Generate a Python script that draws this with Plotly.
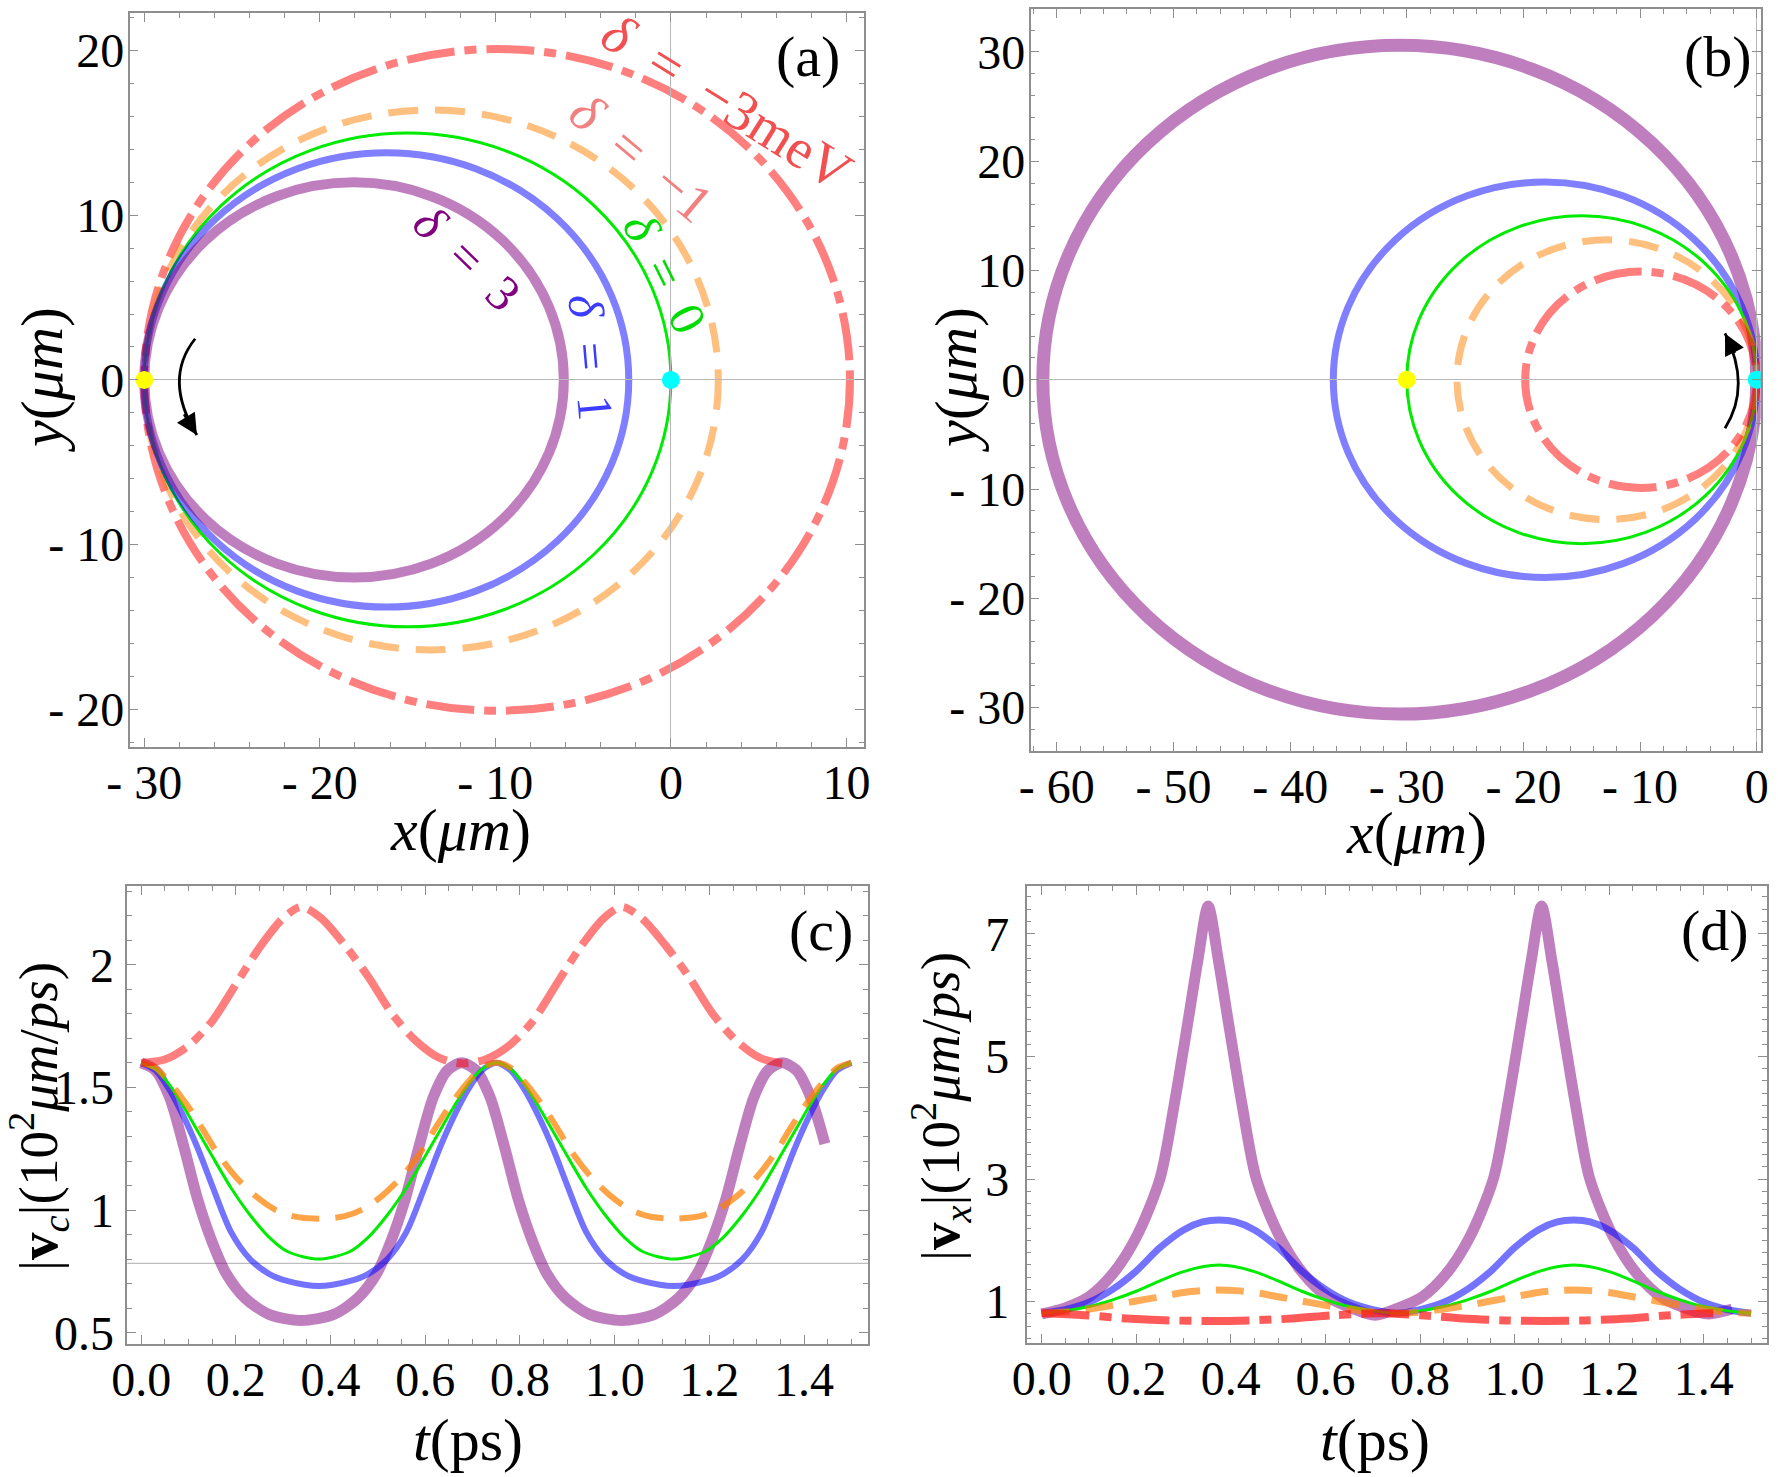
import plotly.graph_objects as go

W, H = 1778, 1477

# ---------------- data ----------------
delta_labels = ["-3", "-1", "0", "1", "3"]

# panel (a): trajectory extents (left x, right x, half height) in um
a_xleft = [-30.0, -30.0, -30.0, -30.0, -30.0]
a_xright = [10.2, 2.7, 0.0, -2.4, -6.1]
a_yhalf = [20.1, 16.4, 15.0, 13.8, 12.0]

# panel (b)
b_xleft = [-19.85, -25.7, -30.0, -36.3, -61.2]
b_xright = [0.0, 0.0, 0.0, 0.0, 0.0]
b_yhalf = [9.9, 12.8, 15.0, 18.1, 30.6]

# start / special points
a_yellow = (-30.0, 0.0)
a_cyan = (0.0, 0.0)
b_yellow = (-30.0, 0.0)
b_cyan = (0.0, 0.0)

# curved arrows: start, control, tip
a_arrow = [(-27.1, 2.5), (-28.95, 0.03), (-27.0, -3.35)]
b_arrow = [(-2.72, -4.43), (-0.44, -0.585), (-2.72, 4.24)]

# panel (c): |v_c| (10^2 um/ps)
c_t_red = [0.0, 0.05, 0.10, 0.15, 0.20, 0.25, 0.30, 0.338, 0.38, 0.43, 0.48, 0.53, 0.58, 0.63, 0.677,
           0.727, 0.777, 0.827, 0.877, 0.927, 0.977, 1.015, 1.057, 1.107, 1.157, 1.207, 1.257, 1.307, 1.354]
c_v_red = [1.600, 1.614, 1.67, 1.77, 1.92, 2.07, 2.19, 2.236, 2.19, 2.08, 1.95, 1.80, 1.69, 1.62, 1.598,
           1.614, 1.67, 1.77, 1.92, 2.07, 2.19, 2.236, 2.19, 2.08, 1.95, 1.80, 1.69, 1.62, 1.598]

c_t_purple = [0.0, 0.03, 0.06, 0.09, 0.12, 0.15, 0.18, 0.22, 0.27, 0.338, 0.407, 0.457, 0.497, 0.527, 0.557,
              0.587, 0.617, 0.647, 0.677, 0.707, 0.737, 0.767, 0.797, 0.827, 0.857, 0.897, 0.947, 1.015,
              1.084, 1.134, 1.174, 1.204, 1.234, 1.264, 1.294, 1.324, 1.354, 1.384, 1.414, 1.444]
c_v_purple = [1.60, 1.57, 1.46, 1.26, 1.04, 0.87, 0.74, 0.64, 0.575, 0.55, 0.575, 0.64, 0.74, 0.87, 1.04,
              1.26, 1.46, 1.57, 1.60, 1.57, 1.46, 1.26, 1.04, 0.87, 0.74, 0.64, 0.575, 0.55,
              0.575, 0.64, 0.74, 0.87, 1.04, 1.26, 1.46, 1.57, 1.60, 1.57, 1.46, 1.27]

c_t_bgo = [0.0, 0.03, 0.06, 0.09, 0.12, 0.15, 0.19, 0.23, 0.27, 0.31, 0.375, 0.44, 0.48, 0.52, 0.56, 0.60,
           0.63, 0.66, 0.69, 0.72, 0.75, 0.78, 0.81, 0.84, 0.87, 0.90, 0.94, 0.98, 1.02, 1.06, 1.125, 1.19,
           1.23, 1.27, 1.31, 1.35, 1.38, 1.41, 1.44, 1.47, 1.50]
c_v_blue = [1.60, 1.57, 1.49, 1.38, 1.25, 1.10, 0.91, 0.80, 0.74, 0.71, 0.69, 0.71, 0.74, 0.80, 0.91, 1.10,
            1.25, 1.38, 1.49, 1.57, 1.60, 1.57, 1.49, 1.38, 1.25, 1.10, 0.91, 0.80, 0.74, 0.71, 0.69, 0.71,
            0.74, 0.80, 0.91, 1.10, 1.25, 1.38, 1.49, 1.57, 1.60]
c_v_green = [1.60, 1.575, 1.51, 1.42, 1.32, 1.22, 1.09, 0.98, 0.89, 0.83, 0.80, 0.83, 0.89, 0.98, 1.09, 1.22,
             1.32, 1.42, 1.51, 1.575, 1.60, 1.575, 1.51, 1.42, 1.32, 1.22, 1.09, 0.98, 0.89, 0.83, 0.80, 0.83,
             0.89, 0.98, 1.09, 1.22, 1.32, 1.42, 1.51, 1.575, 1.60]
c_t_orange = [0.0, 0.03, 0.065, 0.10, 0.13, 0.16, 0.20, 0.24, 0.28, 0.32, 0.375, 0.43, 0.47, 0.51, 0.55, 0.59,
              0.62, 0.65, 0.685, 0.72, 0.75, 0.78, 0.815, 0.85, 0.88, 0.91, 0.95, 0.99, 1.03, 1.07, 1.125,
              1.18, 1.22, 1.26, 1.30, 1.34, 1.37, 1.40, 1.435, 1.47, 1.50]
c_v_orange = [1.60, 1.58, 1.51, 1.42, 1.33, 1.235, 1.135, 1.06, 1.005, 0.975, 0.965, 0.975, 1.005, 1.06, 1.135,
              1.235, 1.33, 1.42, 1.51, 1.58, 1.60, 1.58, 1.51, 1.42, 1.33, 1.235, 1.135, 1.06, 1.005, 0.975,
              0.965, 0.975, 1.005, 1.06, 1.135, 1.235, 1.33, 1.42, 1.51, 1.58, 1.60]
c_hline = 0.783

# panel (d): |v_x| (10^2 um/ps)
d_t_purple = [0.0, 0.05, 0.10, 0.15, 0.20, 0.25, 0.28, 0.308, 0.33, 0.352, 0.374, 0.396, 0.424, 0.454, 0.504,
              0.554, 0.604, 0.654, 0.705, 0.755, 0.805, 0.855, 0.905, 0.955, 0.985, 1.013, 1.035, 1.057,
              1.079, 1.101, 1.129, 1.159, 1.209, 1.259, 1.309, 1.359, 1.41, 1.46]
d_v_purple = [0.80, 0.90, 1.08, 1.45, 2.05, 3.0, 4.2, 5.5, 6.55, 7.45, 6.55, 5.5, 4.2, 3.0, 2.05,
              1.45, 1.08, 0.90, 0.78, 0.90, 1.08, 1.45, 2.05, 3.0, 4.2, 5.5, 6.55, 7.45,
              6.55, 5.5, 4.2, 3.0, 2.05, 1.45, 1.08, 0.90, 0.80, 0.88]
d_t_bgo = [0.0, 0.05, 0.10, 0.15, 0.20, 0.25, 0.30, 0.34, 0.375, 0.41, 0.45, 0.50, 0.55, 0.60, 0.65, 0.70,
           0.75, 0.80, 0.85, 0.90, 0.95, 1.00, 1.05, 1.09, 1.125, 1.16, 1.20, 1.25, 1.30, 1.35, 1.40, 1.45, 1.50]
d_v_blue = [0.81, 0.87, 0.99, 1.20, 1.50, 1.88, 2.17, 2.30, 2.33, 2.30, 2.17, 1.88, 1.50, 1.20, 0.99, 0.87,
            0.81, 0.87, 0.99, 1.20, 1.50, 1.88, 2.17, 2.30, 2.33, 2.30, 2.17, 1.88, 1.50, 1.20, 0.99, 0.87, 0.81]
d_v_green = [0.81, 0.85, 0.92, 1.03, 1.17, 1.34, 1.49, 1.57, 1.60, 1.57, 1.49, 1.34, 1.17, 1.03, 0.92, 0.85,
             0.81, 0.85, 0.92, 1.03, 1.17, 1.34, 1.49, 1.57, 1.60, 1.57, 1.49, 1.34, 1.17, 1.03, 0.92, 0.85, 0.81]
d_v_orange = [0.81, 0.83, 0.88, 0.94, 1.01, 1.08, 1.15, 1.18, 1.19, 1.18, 1.15, 1.08, 1.01, 0.94, 0.88, 0.83,
              0.81, 0.83, 0.88, 0.94, 1.01, 1.08, 1.15, 1.18, 1.19, 1.18, 1.15, 1.08, 1.01, 0.94, 0.88, 0.83, 0.81]
d_t_red = [0.0, 0.09, 0.18, 0.27, 0.355, 0.44, 0.53, 0.62, 0.71, 0.80, 0.89, 0.98, 1.065, 1.15, 1.24, 1.33, 1.42]
d_v_red = [0.81, 0.78, 0.725, 0.695, 0.685, 0.695, 0.725, 0.78, 0.81, 0.78, 0.725, 0.695, 0.685, 0.695, 0.725,
           0.78, 0.81]

# tick labels
a_xticks = [-30, -20, -10, 0, 10]
a_xtext = ["- 30", "- 20", "- 10", "0", "10"]
a_yticks = [-20, -10, 0, 10, 20]
a_ytext = ["- 20", "- 10", "0", "10", "20"]
b_xticks = [-60, -50, -40, -30, -20, -10, 0]
b_xtext = ["- 60", "- 50", "- 40", "- 30", "- 20", "- 10", "0"]
b_yticks = [-30, -20, -10, 0, 10, 20, 30]
b_ytext = ["- 30", "- 20", "- 10", "0", "10", "20", "30"]
t_ticks = [0.0, 0.2, 0.4, 0.6, 0.8, 1.0, 1.2, 1.4]
t_text = ["0.0", "0.2", "0.4", "0.6", "0.8", "1.0", "1.2", "1.4"]
c_yticks = [0.5, 1.0, 1.5, 2.0]
c_ytext = ["0.5", "1", "1.5", "2"]
d_yticks = [1, 3, 5, 7]
d_ytext = ["1", "3", "5", "7"]

# ---------------- styles ----------------
FONT = "'Liberation Serif', 'Times New Roman', Times, 'DejaVu Serif', serif"
col = {"-3": "rgba(255,0,0,0.5)", "-1": "rgba(255,127,0,0.5)", "0": "rgb(0,235,0)",
       "1": "rgba(0,0,255,0.5)", "3": "rgba(128,0,128,0.5)"}
wid = {"-3": 8, "-1": 7, "0": 3, "1": 7, "3": 11}
dsh = {"-3": "48px,10px,12px,10px", "-1": "30px,17px", "0": "solid", "1": "solid", "3": "solid"}

fig = go.Figure()

def px2paper(px, py):
    return px / W, 1 - py / H

# ---- trajectories as shapes (data coordinates) ----
shapes = []
order_a = ["-3", "-1", "0", "1", "3"]
for d in order_a:
    i = delta_labels.index(d)
    shapes.append(dict(type="circle", xref="x", yref="y", layer="below",
                       x0=a_xleft[i], x1=a_xright[i], y0=-a_yhalf[i], y1=a_yhalf[i],
                       line=dict(color=col[d], width=wid[d] + (0 if d != "3" else -1), dash=dsh[d])))
order_b = ["3", "1", "0", "-1", "-3"]
for d in order_b:
    i = delta_labels.index(d)
    shapes.append(dict(type="circle", xref="x2", yref="y2", layer="below",
                       x0=b_xleft[i], x1=b_xright[i], y0=-b_yhalf[i], y1=b_yhalf[i],
                       line=dict(color=col[d], width=wid[d] + (2 if d == "3" else 0), dash=dsh[d])))

# arrows
for arr, xr, yr in [(a_arrow, "x", "y"), (b_arrow, "x2", "y2")]:
    (x0, y0), (cx, cy), (x1, y1) = arr
    shapes.append(dict(type="path", xref=xr, yref=yr, layer="above",
                       path=f"M {x0},{y0} Q {cx},{cy} {x1},{y1}",
                       line=dict(color="black", width=2.8)))

# horizontal gray line in (c)
shapes.append(dict(type="line", xref="x3 domain", yref="y3", x0=0, x1=1, y0=c_hline, y1=c_hline,
                   layer="below", line=dict(color="#bdbdbd", width=1.2)))

# ---- points ----
for (p, xa, ya, c) in [(a_yellow, "x", "y", "#ffff00"), (a_cyan, "x", "y", "#00ffff"),
                       (b_yellow, "x2", "y2", "#ffff00"), (b_cyan, "x2", "y2", "#00ffff")]:
    fig.add_trace(go.Scatter(x=[p[0]], y=[p[1]], mode="markers", xaxis=xa, yaxis=ya,
                             marker=dict(size=18, color=c, line=dict(width=0)), showlegend=False))

# ---- time curves ----
def line(t, v, xa, ya, color, width, dash="solid"):
    fig.add_trace(go.Scatter(x=t, y=v, mode="lines", xaxis=xa, yaxis=ya, showlegend=False,
                             line=dict(color=color, width=width, dash=dash, shape="spline", smoothing=0.8)))

line(c_t_purple, c_v_purple, "x3", "y3", "rgba(128,0,128,0.5)", 11)
line(c_t_bgo, c_v_blue, "x3", "y3", "rgba(0,0,255,0.55)", 6)
line(c_t_bgo, c_v_green, "x3", "y3", "rgb(0,235,0)", 3)
line(c_t_orange, c_v_orange, "x3", "y3", "rgba(255,127,0,0.72)", 6, "28px,16px")
line(c_t_red, c_v_red, "x3", "y3", "rgba(255,0,0,0.5)", 8, "48px,10px,12px,10px")

line(d_t_purple, d_v_purple, "x4", "y4", "rgba(128,0,128,0.5)", 11)
line(d_t_bgo, d_v_blue, "x4", "y4", "rgba(0,0,255,0.55)", 7)
line(d_t_bgo, d_v_green, "x4", "y4", "rgb(0,235,0)", 3)
line(d_t_bgo, d_v_orange, "x4", "y4", "rgba(255,127,0,0.65)", 7, "28px,16px")
line(d_t_red, d_v_red, "x4", "y4", "rgba(255,20,20,0.7)", 8, "48px,10px,12px,10px")

# ---------------- axes ----------------
GRAY = "#8e8e8e"

def axis(rng, domain, anchor, tv, tt, minor_dtick, zeroline, standoff, minor_tick0=0):
    return dict(range=rng, domain=domain, anchor=anchor, tickmode="array", tickvals=tv, ticktext=tt,
                automargin=False,
                ticks="inside", ticklen=9, tickwidth=1.2, tickcolor=GRAY,
                showline=True, linecolor=GRAY, linewidth=1.5, mirror="ticks",
                showgrid=False, zeroline=zeroline, zerolinecolor="#b8b8b8", zerolinewidth=1.3,
                minor=dict(tick0=minor_tick0, dtick=minor_dtick, ticks="inside", ticklen=5,
                           tickwidth=1, tickcolor=GRAY, showgrid=False),
                tickfont=dict(family=FONT, size=48, color="black"),
                ticklabelstandoff=standoff, fixedrange=True)

def dom_x(l, r):
    return [l / W, r / W]

def dom_y(top, bot):
    return [1 - bot / H, 1 - top / H]

layout = dict(
    width=W, height=H, margin=dict(l=0, r=0, t=0, b=0, autoexpand=False),
    paper_bgcolor="white", plot_bgcolor="white", showlegend=False,
    font=dict(family=FONT),
    xaxis=axis([-30.84, 11.0], dom_x(129.5, 864), "y", a_xticks, a_xtext, 2, True, -7),
    yaxis=axis([-22.3, 22.27], dom_y(13.3, 747), "x", a_yticks, a_ytext, 2, True, -6),
    xaxis2=axis([-62.24, 0.34], dom_x(1030.7, 1760.7), "y2", b_xticks, b_xtext, 2, True, -7),
    yaxis2=axis([-33.95, 33.9], dom_y(9.3, 750.7), "x2", b_yticks, b_ytext, 2, True, -6),
    xaxis3=axis([-0.029, 1.535], dom_x(127.4, 868), "y3", t_ticks, t_text, 0.05, False, -7),
    yaxis3=axis([0.454, 2.321], dom_y(886, 1344), "x3", c_yticks, c_ytext, 0.1, False, 2),
    xaxis4=axis([-0.032, 1.533], dom_x(1026.5, 1766.7), "y4", t_ticks, t_text, 0.05, False, -7),
    yaxis4=axis([0.331, 7.778], dom_y(886, 1342.7), "x4", d_yticks, d_ytext, 0.2, False, 6),
    shapes=shapes,
)
fig.update_layout(**layout)

# ---------------- annotations ----------------
ann = []

def ptext(text, px, py, size, angle=0, color="black"):
    x, y = px2paper(px, py)
    ann.append(dict(text=text, x=x, y=y, xref="paper", yref="paper", xanchor="center", yanchor="middle",
                    showarrow=False, textangle=angle, font=dict(family=FONT, size=size, color=color)))

# axis titles
ptext("<i>x</i>(<i>μm</i>)", 460, 830, 60)
ptext("<i>y</i>(<i>μm</i>)", 42, 380, 60, -90)
ptext("<i>x</i>(<i>μm</i>)", 1416, 833, 60)
ptext("<i>y</i>(<i>μm</i>)", 956, 380, 60, -90)
ptext("<i>t</i>(ps)", 468, 1440, 60)
ptext("<i>t</i>(ps)", 1375, 1440, 60)
ptext("|<b>v</b><sub><i>c</i></sub>|(10<sup>2</sup><i>μm</i>/<i>ps</i>)", 38, 1117, 55, -90)
ptext("|<b>v</b><sub><i>x</i></sub>|(10<sup>2</sup><i>μm</i>/<i>ps</i>)", 940, 1107, 55, -90)

# panel labels
ptext("(a)", 808, 57, 58)
ptext("(b)", 1718, 57, 58)
ptext("(c)", 821, 930, 58)
ptext("(d)", 1715, 930, 58)

# delta labels in panel (a), placed in data coordinates
ES = "\u2002"
delta_text = [("<i>δ</i>" + ES + "=" + ES + "−3meV", 3.22, 16.9, 32, "rgb(242,80,80)", 56),
              ("<i>δ</i>" + ES + "=" + ES + "−1", -1.67, 13.51, 40, "rgb(242,128,128)", 54),
              ("<i>δ</i>" + ES + "=" + ES + "0", -0.34, 6.5, 63.5, "rgb(0,220,0)", 50),
              ("<i>δ</i>" + ES + "=" + ES + "1", -4.56, 1.40, 85, "rgb(60,60,255)", 50),
              ("<i>δ</i>" + ES + "=" + ES + "3", -11.6, 7.41, 44, "rgb(128,0,128)", 50)]
for txt, x, y, ang, c, s in delta_text:
    ann.append(dict(text=txt, x=x, y=y, xref="x", yref="y", xanchor="center", yanchor="middle",
                    showarrow=False, textangle=ang, font=dict(family=FONT, size=s, color=c)))

# arrowheads for the curved arrows
for arr, xr, yr in [(a_arrow, "x", "y"), (b_arrow, "x2", "y2")]:
    (x0, y0), (cx, cy), (x1, y1) = arr
    ann.append(dict(text="", x=x1, y=y1, xref=xr, yref=yr, axref=xr, ayref=yr,
                    ax=x1 - 0.4 * (x1 - cx), ay=y1 - 0.4 * (y1 - cy),
                    showarrow=True, arrowhead=2, arrowsize=1.5, arrowwidth=2.8, arrowcolor="black"))

fig.update_layout(annotations=ann)

fig.write_html("out.html")
